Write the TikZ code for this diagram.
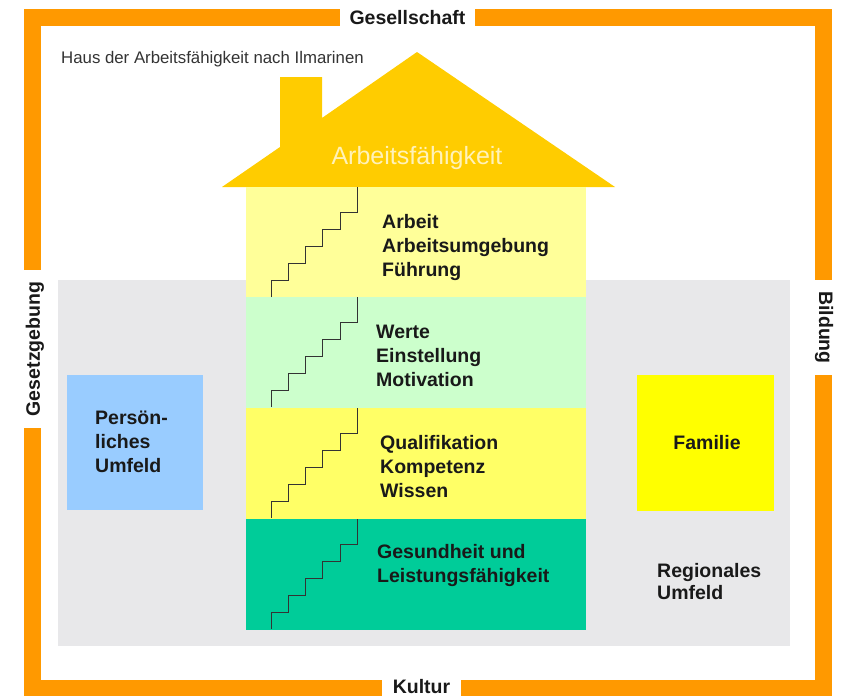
\documentclass[tikz,border=0pt]{standalone}
\usepackage{fontspec}
\setmainfont{Liberation Sans}
\usepackage{tikz}
\definecolor{framecol}{RGB}{255,153,0}
\definecolor{roofcol}{RGB}{255,204,0}
\definecolor{rooftext}{RGB}{255,242,185}
\definecolor{areacol}{RGB}{232,232,234}
\definecolor{workcol}{RGB}{255,255,153}
\definecolor{valuecol}{RGB}{204,255,204}
\definecolor{skillcol}{RGB}{255,255,102}
\definecolor{healthcol}{RGB}{0,204,153}
\definecolor{personcol}{RGB}{153,204,255}
\definecolor{familycol}{RGB}{255,255,0}
\newcommand{\stairway}[1]{%
\draw [stairline] (271,#1-110) -- (271,#1-93) -- (288,#1-93) -- (288,#1-76) -- (305,#1-76) -- (305,#1-59) -- (322,#1-59) -- (322,#1-42) -- (340,#1-42) -- (340,#1-25) -- (357,#1-25) -- (357,#1);}

\begin{document}
\begin{tikzpicture}[x=1pt,y=1pt]
\tikzstyle{every node}+=[inner sep=0pt]
\tikzstyle{bandtext}=[font=\fontsize{19.5}{24}\selectfont\bfseries, align=left, anchor=west, text=black!90]
\tikzstyle{framelabel}=[font=\fontsize{19.5}{24}\selectfont\bfseries, text=black!90]
\tikzstyle{stairline}=[black!80, line width=1pt]
\useasboundingbox (0,0) rectangle (843,-696);
% frame
\fill [framecol] (24,-9) rectangle (340,-26);
\fill [framecol] (475,-9) rectangle (832,-26);
\fill [framecol] (24,-9) rectangle (41,-270);
\fill [framecol] (24,-428) rectangle (41,-696);
\fill [framecol] (815,-9) rectangle (832,-280);
\fill [framecol] (815,-375) rectangle (832,-696);
\fill [framecol] (24,-680) rectangle (382,-696);
\fill [framecol] (461,-680) rectangle (832,-696);
\draw (407.5,-17.5) node [framelabel] (society) {Gesellschaft};
\draw (421.5,-686.5) node [framelabel] (culture) {Kultur};
\draw (35,-349) node [framelabel, rotate=90] (law) {Gesetzgebung};
\draw (824,-327.5) node [framelabel, rotate=-90] (education) {Bildung};
\draw (61,-59) node [anchor=west, font=\fontsize{16.8}{20}\selectfont, text=black!80] (title) {Haus der Arbeitsfähigkeit nach Ilmarinen};
% region
\fill [areacol] (58,-280) rectangle (790,-646);
\fill [personcol] (67,-375) rectangle (203,-510);
\fill [familycol] (637,-375) rectangle (774,-511);
\draw (95,-442) node [bandtext] (personal) {Persön-\\liches\\Umfeld};
\draw (707,-443) node [framelabel] (family) {Familie};
\draw (657,-582) node [bandtext, font=\fontsize{19.5}{22}\selectfont\bfseries] (regional) {Regionales\\Umfeld};
% house
\fill [roofcol] (222,-187) -- (280,-147) -- (280,-77) -- (322,-77) -- (322,-118) -- (417,-52) -- (615,-187) -- cycle;
\draw (417,-158) node [font=\fontsize{25}{30}\selectfont, text=rooftext] (ability) {Arbeitsfähigkeit};
\fill [workcol] (246,-187) rectangle (586,-297);
\fill [valuecol] (246,-297) rectangle (586,-408);
\fill [skillcol] (246,-408) rectangle (586,-519);
\fill [healthcol] (246,-519) rectangle (586,-630);
\stairway{-187}
\stairway{-297}
\stairway{-408}
\stairway{-519}
\draw (382,-247) node [bandtext] (work) {Arbeit\\Arbeitsumgebung\\Führung};
\draw (376,-356) node [bandtext] (values) {Werte\\Einstellung\\Motivation};
\draw (380,-467) node [bandtext] (skills) {Qualifikation\\Kompetenz\\Wissen};
\draw (377,-565.5) node [bandtext] (health) {Gesundheit und\\Leistungsfähigkeit};
\end{tikzpicture}
\end{document}
